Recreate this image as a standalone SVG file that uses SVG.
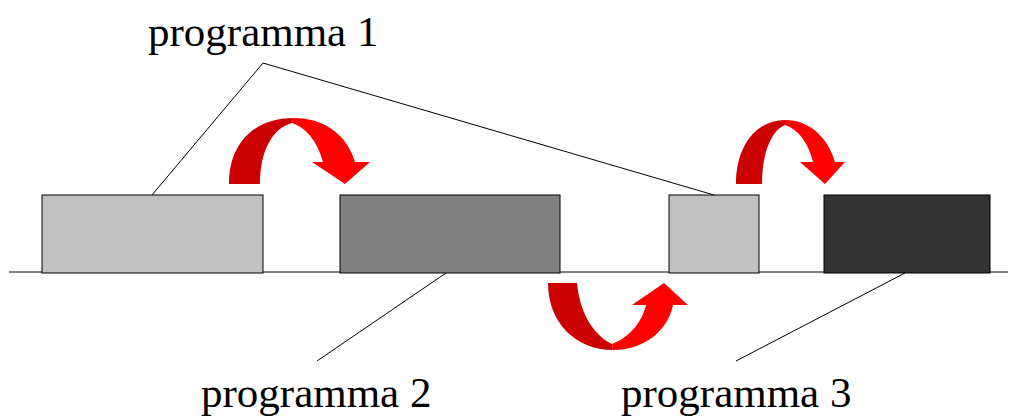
<svg xmlns="http://www.w3.org/2000/svg" width="1010" height="417" viewBox="0 0 1010 417">
<style>
.lbl{font-family:"Liberation Serif","Times New Roman",serif;font-size:43px;fill:#000}
.box{stroke:#000;stroke-width:1}
.ln{stroke:#000;stroke-width:1;fill:none}
.dk{fill:#cc0000}
.br{fill:#ff0000}
</style>
<rect width="1010" height="417" fill="#fff"/>
<line class="ln" x1="9" y1="272" x2="1008" y2="272"/>
<g id="prog1a"><rect class="box" x="42" y="195" width="221" height="78" fill="#c0c0c0"/></g>
<g id="prog2"><rect class="box" x="340" y="195" width="220" height="78" fill="#808080"/></g>
<g id="prog1b"><rect class="box" x="669" y="195" width="90" height="78" fill="#c0c0c0"/></g>
<g id="prog3"><rect class="box" x="824" y="195" width="166" height="78" fill="#333333"/></g>
<g id="connectors">
<polyline class="ln" points="152,195 263,63 714,195"/>
<line class="ln" x1="446" y1="273" x2="317" y2="361"/>
<line class="ln" x1="905" y1="273" x2="736" y2="361"/>
</g>
<g id="arrow1">
<path class="dk" d="M229,184 C229,142 256,118 293,118 L292,123 C273,128 260,150 260,184 Z"/>
<path class="br" d="M293,118 C325,118 347,135 355,162 L370,162 L345,184 L312,162 L323,162 C317,140 305,127 292,123 Z"/>
</g>
<g id="arrow2">
<path class="dk" d="M548,283 C548,322 575,350 613,350 L612,344 C595,336 580,315 577,283 Z"/>
<path class="br" d="M613,350 C645,350 668,330 673,305 L688,305 L664,283 L632,305 L646,305 C642,323 628,338 612,344 Z"/>
</g>
<g id="arrow3">
<path class="dk" d="M736,184 C736,145 757,120 785,120 L785,125 C772,130 762,152 762,184 Z"/>
<path class="br" d="M785,120 C810,120 828,138 835,162 L845,162 L825,184 L800,162 L813,162 C808,142 798,129 785,125 Z"/>
</g>
<g id="labels">
<text class="lbl" x="148" y="46">programma 1</text>
<text class="lbl" x="201" y="407">programma 2</text>
<text class="lbl" x="621" y="407">programma 3</text>
</g>
</svg>
